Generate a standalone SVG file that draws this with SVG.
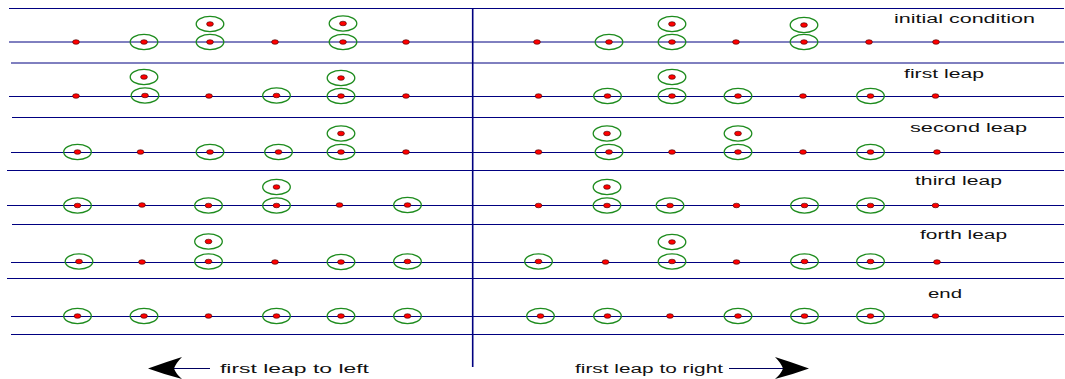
<svg xmlns="http://www.w3.org/2000/svg" xmlns:xlink="http://www.w3.org/1999/xlink" width="1065" height="379" viewBox="0 0 1065 379">
<style>
.ln{stroke:#000080;stroke-width:1;fill:none}
.ring{fill:none;stroke:#1e8c1e;stroke-width:1.3}
.dot{fill:#ff0000;stroke:#3a0000;stroke-width:0.6}
.lbl{font-family:"Liberation Sans",Arial,sans-serif;font-size:12.5px;fill:#111}
.arr{stroke:#000060;stroke-width:1;fill:none}
.head{fill:#000;stroke:none}
</style>
<defs>
<ellipse id="d" class="dot" cx="0" cy="0" rx="3.4" ry="2.3"/>
<g id="r"><ellipse class="ring" cx="0" cy="0" rx="13.8" ry="7.6"/><ellipse class="dot" cx="0" cy="0" rx="3.4" ry="2.3"/></g>
</defs>
<rect width="1065" height="379" fill="#fff"/>
<g id="grid">
<line class="ln" x1="9" y1="8.5" x2="1064" y2="8.5"/>
<line class="ln" x1="9" y1="42" x2="1064" y2="42"/>
<line class="ln" x1="11" y1="63" x2="1064" y2="63"/>
<line class="ln" x1="9" y1="96.5" x2="1064" y2="96.5"/>
<line class="ln" x1="12" y1="117.5" x2="1064" y2="117.5"/>
<line class="ln" x1="11" y1="152.5" x2="1064" y2="152.5"/>
<line class="ln" x1="7" y1="170.5" x2="1064" y2="170.5"/>
<line class="ln" x1="7" y1="205.5" x2="1064" y2="205.5"/>
<line class="ln" x1="12" y1="224.5" x2="1064" y2="224.5"/>
<line class="ln" x1="11" y1="262.5" x2="1064" y2="262.5"/>
<line class="ln" x1="7" y1="278.5" x2="1064" y2="278.5"/>
<line class="ln" x1="11" y1="316.5" x2="1064" y2="316.5"/>
<line class="ln" x1="11" y1="334.5" x2="1064" y2="334.5"/>
<line class="ln" x1="472.7" y1="8" x2="472.7" y2="367" style="stroke-width:1.6"/>
</g>
<g id="row1-left">
<use xlink:href="#d" x="76" y="42"/><use xlink:href="#r" x="144" y="42"/><use xlink:href="#r" x="210" y="42"/><use xlink:href="#d" x="275" y="42"/><use xlink:href="#r" x="343" y="42"/><use xlink:href="#d" x="406" y="42"/>
<use xlink:href="#r" x="210" y="24"/><use xlink:href="#r" x="343" y="23.5"/>
</g>
<g id="row1-right">
<use xlink:href="#d" x="537" y="42"/><use xlink:href="#r" x="609" y="42"/><use xlink:href="#r" x="672" y="42"/><use xlink:href="#d" x="736" y="42"/><use xlink:href="#r" x="804" y="42"/><use xlink:href="#d" x="869" y="42"/><use xlink:href="#d" x="936" y="42"/>
<use xlink:href="#r" x="672" y="24"/><use xlink:href="#r" x="804" y="25"/>
</g>
<g id="row2-left">
<use xlink:href="#d" x="76" y="96"/><use xlink:href="#r" x="145" y="95.5"/><use xlink:href="#d" x="209" y="96"/><use xlink:href="#r" x="276.5" y="95.5"/><use xlink:href="#r" x="341" y="96"/><use xlink:href="#d" x="406" y="96"/>
<use xlink:href="#r" x="144" y="77"/><use xlink:href="#r" x="341" y="78"/>
</g>
<g id="row2-right">
<use xlink:href="#d" x="538.5" y="96"/><use xlink:href="#r" x="607.5" y="96"/><use xlink:href="#r" x="672" y="96"/><use xlink:href="#r" x="738" y="96"/><use xlink:href="#d" x="803" y="96"/><use xlink:href="#r" x="870.5" y="96"/><use xlink:href="#d" x="935.5" y="96"/>
<use xlink:href="#r" x="672" y="77"/>
</g>
<g id="row3-left">
<use xlink:href="#r" x="77.5" y="152"/><use xlink:href="#d" x="140.5" y="152"/><use xlink:href="#r" x="210" y="152"/><use xlink:href="#r" x="278.5" y="152"/><use xlink:href="#r" x="341" y="152"/><use xlink:href="#d" x="406" y="152"/>
<use xlink:href="#r" x="341" y="133.5"/>
</g>
<g id="row3-right">
<use xlink:href="#d" x="538.5" y="152"/><use xlink:href="#r" x="609" y="152"/><use xlink:href="#d" x="672" y="152"/><use xlink:href="#r" x="738" y="152"/><use xlink:href="#d" x="803" y="152"/><use xlink:href="#r" x="870.5" y="152"/><use xlink:href="#d" x="937" y="152"/>
<use xlink:href="#r" x="607" y="133.5"/><use xlink:href="#r" x="738" y="133.5"/>
</g>
<g id="row4-left">
<use xlink:href="#r" x="77.5" y="205.5"/><use xlink:href="#d" x="142" y="205"/><use xlink:href="#r" x="208.5" y="205.5"/><use xlink:href="#r" x="276.5" y="205.5"/><use xlink:href="#d" x="339.5" y="205"/><use xlink:href="#r" x="407.5" y="205"/>
<use xlink:href="#r" x="276.5" y="187"/>
</g>
<g id="row4-right">
<use xlink:href="#d" x="538.5" y="205.5"/><use xlink:href="#r" x="607" y="205.5"/><use xlink:href="#r" x="670" y="205.5"/><use xlink:href="#d" x="736.5" y="205.5"/><use xlink:href="#r" x="804.5" y="205.5"/><use xlink:href="#r" x="870.5" y="205.5"/><use xlink:href="#d" x="935.5" y="205.5"/>
<use xlink:href="#r" x="607" y="187"/>
</g>
<g id="row5-left">
<use xlink:href="#r" x="79" y="261.5"/><use xlink:href="#d" x="142" y="262"/><use xlink:href="#r" x="208.5" y="261.5"/><use xlink:href="#d" x="275" y="262"/><use xlink:href="#r" x="341" y="262"/><use xlink:href="#r" x="407.5" y="261.5"/>
<use xlink:href="#r" x="208.5" y="241.5"/>
</g>
<g id="row5-right">
<use xlink:href="#r" x="538.5" y="261.5"/><use xlink:href="#d" x="605.5" y="262"/><use xlink:href="#r" x="672" y="261.5"/><use xlink:href="#d" x="736.5" y="262"/><use xlink:href="#r" x="804.5" y="261.5"/><use xlink:href="#r" x="870.5" y="261.5"/><use xlink:href="#d" x="937" y="262"/>
<use xlink:href="#r" x="672" y="242"/>
</g>
<g id="row6-left">
<use xlink:href="#r" x="77.5" y="316"/><use xlink:href="#r" x="144" y="316"/><use xlink:href="#d" x="208.5" y="316"/><use xlink:href="#r" x="276.5" y="316"/><use xlink:href="#r" x="341" y="316"/><use xlink:href="#r" x="407.5" y="316"/>
</g>
<g id="row6-right">
<use xlink:href="#r" x="540.5" y="316"/><use xlink:href="#r" x="607.5" y="316"/><use xlink:href="#d" x="670" y="316"/><use xlink:href="#r" x="738" y="316"/><use xlink:href="#r" x="804.5" y="316"/><use xlink:href="#r" x="870.5" y="316"/><use xlink:href="#d" x="935.5" y="316"/>
</g>
<g id="labels">
<text class="lbl" x="894" y="23" textLength="141" lengthAdjust="spacingAndGlyphs">initial condition</text>
<text class="lbl" x="904" y="77.5" textLength="80" lengthAdjust="spacingAndGlyphs">first leap</text>
<text class="lbl" x="910" y="132" textLength="117" lengthAdjust="spacingAndGlyphs">second leap</text>
<text class="lbl" x="915" y="185" textLength="87" lengthAdjust="spacingAndGlyphs">third leap</text>
<text class="lbl" x="920" y="238.5" textLength="87" lengthAdjust="spacingAndGlyphs">forth leap</text>
<text class="lbl" x="928" y="297.5" textLength="34" lengthAdjust="spacingAndGlyphs">end</text>
<text class="lbl" x="220" y="373" textLength="149" lengthAdjust="spacingAndGlyphs">first leap to left</text>
<text class="lbl" x="575" y="373" textLength="148" lengthAdjust="spacingAndGlyphs">first leap to right</text>
</g>
<g id="connectors">
<line class="arr" x1="174" y1="368.5" x2="210" y2="368.5"/>
<path class="head" d="M148,368.5 Q166,362 182,357 Q176,363 174,368.5 Q176,374 182,379 Q166,375 148,368.5 Z"/>
<line class="arr" x1="729" y1="368.5" x2="784" y2="368.5"/>
<path class="head" d="M809,368.5 Q791,362 775,357 Q781,363 783,368.5 Q781,374 775,379 Q791,375 809,368.5 Z"/>
</g>
</svg>
